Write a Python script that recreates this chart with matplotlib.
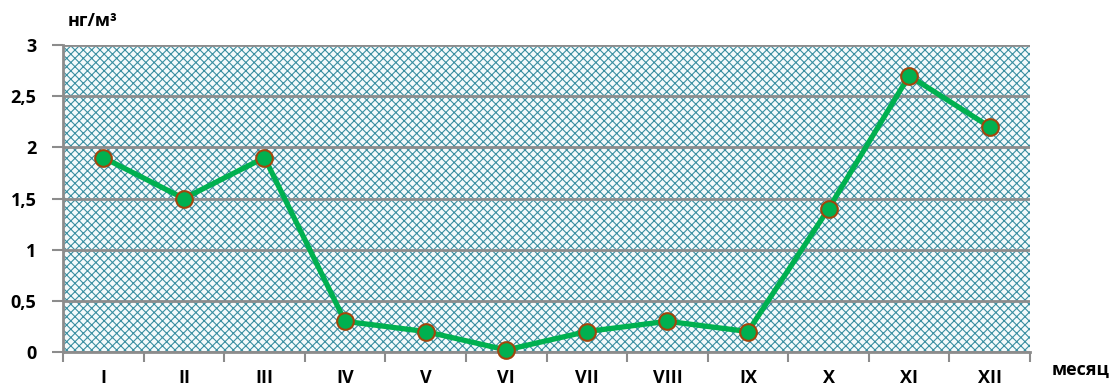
import matplotlib
matplotlib.use("Agg")
import matplotlib.pyplot as plt
import numpy as np

months = ["I", "II", "III", "IV", "V", "VI", "VII", "VIII", "IX", "X", "XI", "XII"]
values = [1.9, 1.5, 1.9, 0.3, 0.2, 0.02, 0.2, 0.3, 0.2, 1.4, 2.7, 2.2]
y_ticks = [0, 0.5, 1, 1.5, 2, 2.5, 3]
y_tick_labels = ["0", "0,5", "1", "1,5", "2", "2,5", "3"]

plt.rcParams['font.family'] = ['Open Sans', 'DejaVu Sans']
plt.rcParams['hatch.color'] = '#3a8fa1'
plt.rcParams['hatch.linewidth'] = 0.8

fig = plt.figure(figsize=(11.2, 3.89), dpi=100)
ax = fig.add_axes([0.05625, 0.0951, 0.8634, 0.7892])

x = np.arange(len(months))
ax.set_xlim(-0.5, len(months) - 0.5)
ax.set_ylim(0, 3)

# patterned plot area
ax.add_patch(plt.Rectangle((0, 0), 1, 1, transform=ax.transAxes, facecolor='#f4fafb',
                           hatch='xxxx', edgecolor='#3a8fa1', linewidth=0, zorder=0))

ax.set_yticks(y_ticks)
ax.set_yticklabels(y_tick_labels, fontsize=13, fontweight='bold')
ax.yaxis.grid(True, color='#8c8c8c', linewidth=2, zorder=1)
ax.set_axisbelow(False)

ax.set_xticks(np.arange(-0.5, len(months) - 0.4, 1))
ax.set_xticklabels([])
ax.set_xticks(x, minor=True)
ax.set_xticklabels(months, minor=True, fontsize=13, fontweight='bold')
ax.tick_params(axis='x', which='major', length=7, width=1.5, color='#8c8c8c')
ax.tick_params(axis='x', which='minor', length=0, pad=12)
ax.tick_params(axis='y', length=8, width=1.5, color='#8c8c8c', pad=11)

for s in ['top', 'right']:
    ax.spines[s].set_visible(False)
ax.spines['left'].set_color('#8c8c8c')
ax.spines['left'].set_linewidth(2)
ax.spines['bottom'].set_color('#8c8c8c')
ax.spines['bottom'].set_linewidth(2)

ax.plot(x, values, color='#00b050', linewidth=3.8, marker='o', markersize=12,
        markerfacecolor='#00b050', markeredgecolor='#a0460c', markeredgewidth=1.5,
        zorder=3, clip_on=False)

fig.text(0.083, 0.945, "нг/м³", fontsize=13, fontweight='bold', ha='center', va='center')
fig.text(0.965, 0.05, "месяц", fontsize=13, fontweight='bold', ha='center', va='center')

fig.savefig("out.png", dpi=100)
